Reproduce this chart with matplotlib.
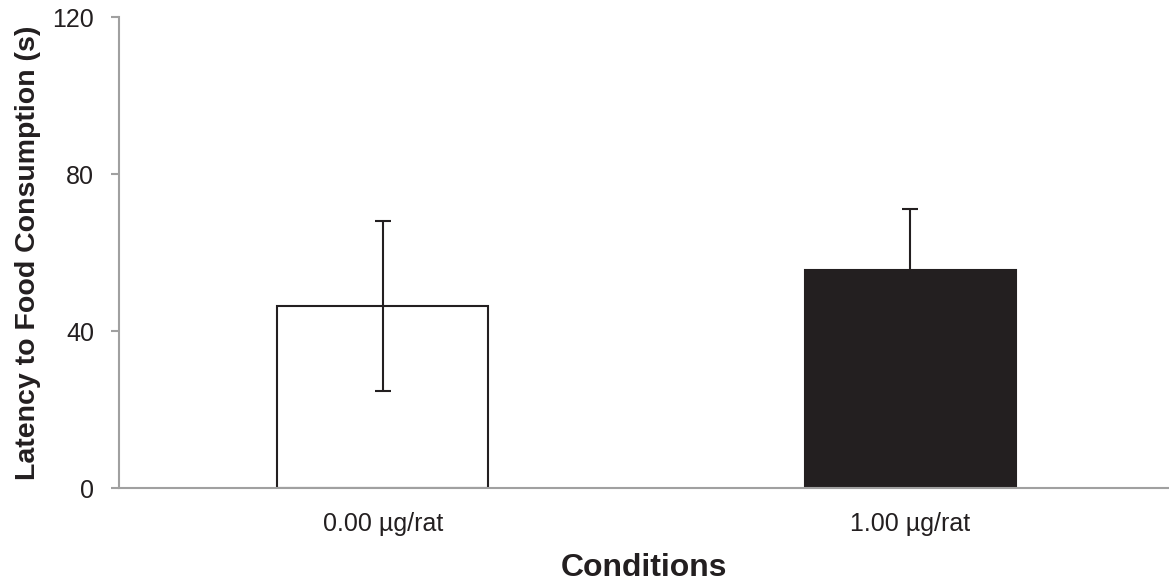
import matplotlib.pyplot as plt

# Values
conditions = ["0.00 \u00b5g/rat", "1.00 \u00b5g/rat"]
latency = [46.5, 55.7]
sem = [21.6, 15.5]
bar_colors = ["white", "#231f20"]

TXT = "#231f20"
GREY = "#a0a0a0"

plt.rcParams["font.family"] = ["Liberation Sans", "DejaVu Sans"]

fig = plt.figure(figsize=(11.69, 5.86), dpi=100)
ax = fig.add_axes([119 / 1169, 1 - 488.3 / 586, (1169 - 119) / 1169, (488.3 - 17.3) / 586])

x = range(len(conditions))
ax.bar(x, latency, width=0.40, color=bar_colors, edgecolor=TXT, linewidth=1.5, zorder=2)
ax.errorbar(x, latency, yerr=sem, fmt="none", ecolor=TXT, elinewidth=1.5,
            capsize=5.5, capthick=1.5, zorder=3)

ax.set_xlim(-0.5, 1.49)
ax.set_ylim(0, 120)
ax.set_yticks([0, 40, 80, 120])
ax.set_xticks(list(x))
ax.set_xticklabels(conditions)

for s in ["top", "right"]:
    ax.spines[s].set_visible(False)
for s in ["left", "bottom"]:
    ax.spines[s].set_color(GREY)
    ax.spines[s].set_linewidth(1.5)

ax.tick_params(axis="y", direction="out", length=6, width=1.5, color=GREY,
               labelsize=18, labelcolor=TXT, pad=12)
ax.tick_params(axis="x", length=0, labelsize=18, labelcolor=TXT, pad=17)

ax.set_xlabel("Conditions", fontsize=23, fontweight="bold", color=TXT, labelpad=12)
ax.set_ylabel("Latency to Food Consumption (s)", fontsize=20.5, fontweight="bold",
              color=TXT, labelpad=8)

fig.savefig("out.png", dpi=100)
